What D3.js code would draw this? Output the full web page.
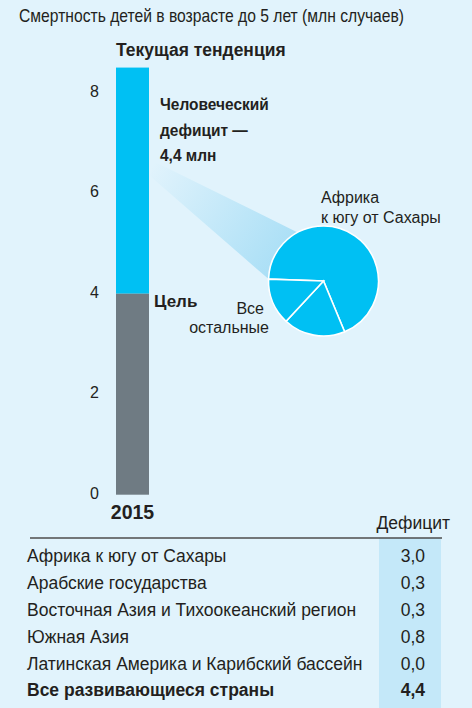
<!DOCTYPE html>
<html><head><meta charset="utf-8">
<script src="https://cdn.jsdelivr.net/npm/d3@7"></script>
<style>
html,body{margin:0;padding:0;background:#e1f3fc;}
svg{display:block;}
text{font-family:"Liberation Sans",Arial,sans-serif;fill:#231f20;}
</style></head>
<body><svg id="c" width="472" height="708"></svg>
<script>
// ---- data ----
const yTicks = [0, 2, 4, 6, 8];
const barYear = "2015";
const goalValue = 4.0;          // Цель
const trendValue = 8.5;         // Текущая тенденция (top of bar)
const deficitTotal = 4.4;
const regions = ["Африка к югу от Сахары","Арабские государства","Восточная Азия и Тихоокеанский регион","Южная Азия","Латинская Америка и Карибский бассейн"];
const regionDeficit = [3.0, 0.3, 0.3, 0.8, 0.0];
const totalLabel = "Все развивающиеся страны";
const pieLabels = ["Африка к югу от Сахары","Южная Азия","Все остальные"];
const pieValues = [3.0, 0.8, 0.6];

const svg = d3.select("#c");
svg.append("rect").attr("width",472).attr("height",708).attr("fill","#e1f3fc");

// condensed text helper
function ctext(parent, x, y, str, size, sx, opts={}) {
  const t = parent.append("text")
    .attr("transform", `translate(${x},${y}) scale(${sx},1)`)
    .attr("font-size", size).text(str);
  if (opts.bold) t.attr("font-weight","bold");
  if (opts.anchor) t.attr("text-anchor", opts.anchor);
  if (opts.fill) t.attr("fill", opts.fill);
  return t;
}

// title
ctext(svg, 19, 22, "Смертность детей в возрасте до 5 лет (млн случаев)", 17.5, 0.895, {fill:"#2b2b2b"});

const y = d3.scaleLinear().domain([0,8]).range([494.7, 92.7]);
const x = d3.scaleBand().domain([barYear]).range([116,149]).padding(0);

// axis (labels only)
const axis = d3.axisLeft(y).tickValues(yTicks).tickSize(0).tickPadding(0).tickFormat(d3.format("d"));
const ag = svg.append("g").attr("transform","translate(99,-2)").call(axis);
ag.select(".domain").remove();
ag.selectAll("text").attr("font-size",16).attr("fill","#4a4a4a").attr("font-family",null).attr("dy","0.35em");

// cone
const cx = 323.5, cy = 281, r = 55;
const onCircle = a => [cx + r*Math.sin(a), cy - r*Math.cos(a)];
const defs = svg.append("defs");
const grad = defs.append("linearGradient").attr("id","cone").attr("gradientUnits","userSpaceOnUse")
  .attr("x1",152).attr("y1",166).attr("x2",285).attr("y2",258);
grad.append("stop").attr("offset",0).attr("stop-color","#aadff6").attr("stop-opacity",0);
grad.append("stop").attr("offset",1).attr("stop-color","#aadff6").attr("stop-opacity",1);
const coneA = -28*Math.PI/180, coneB = -88*Math.PI/180;
svg.append("path").attr("fill","url(#cone)")
  .attr("d", d3.line()([[153,161], onCircle(coneA), [cx,cy], onCircle(coneB), [150,176]]) + "Z");

// bar
svg.append("rect").attr("x",x(barYear)).attr("width",x.bandwidth())
  .attr("y",y(trendValue)).attr("height",y(goalValue)-y(trendValue)).attr("fill","#00c0f3");
svg.append("rect").attr("x",x(barYear)).attr("width",x.bandwidth())
  .attr("y",y(goalValue)).attr("height",y(0)-y(goalValue)).attr("fill","#6f7b83");

ctext(svg, 116, 56, "Текущая тенденция", 19, 0.92, {bold:true});
const defLines = ["Человеческий","дефицит —", d3.format(".1f")(deficitTotal).replace(".",",")+" млн"];
defLines.forEach((d,i)=> ctext(svg, 160, 110+i*25.5, d, 17, 0.91, {bold:true}));
ctext(svg, 154, y(goalValue)+13, "Цель", 17, 1, {bold:true});
ctext(svg, x(barYear)+x.bandwidth()/2, 519, barYear, 19.5, 1, {bold:true, anchor:"middle"});

// pie
const pie = d3.pie().sort(null).startAngle(-88*Math.PI/180).endAngle(272*Math.PI/180);
const arc = d3.arc().innerRadius(0).outerRadius(r);
svg.append("g").attr("transform",`translate(${cx},${cy})`).selectAll("path").data(pie(pieValues)).join("path")
  .attr("d",arc).attr("fill","#00c0f3").attr("stroke","#ffffff").attr("stroke-width",1.6);
svg.append("text").attr("x",321).attr("y",203).attr("font-size",16).attr("fill","#333")
  .selectAll("tspan").data(["Африка","к югу от Сахары"]).join("tspan").attr("x",321).attr("dy",(d,i)=>i?19.5:0).text(d=>d);
svg.append("text").attr("y",314).attr("font-size",16).attr("text-anchor","end").attr("fill","#333")
  .selectAll("tspan").data(["Все","остальные"]).join("tspan").attr("x",(d,i)=>i?269:264).attr("dy",(d,i)=>i?19:0).text(d=>d);

// table
svg.append("text").attr("x",450).attr("y",529).attr("text-anchor","end").attr("font-size",17.5).attr("fill","#333").text("Дефицит");
const rowY = d3.scaleBand().domain(d3.range(regions.length+1)).range([543,704]);
svg.append("rect").attr("x",379).attr("y",538).attr("width",62).attr("height",170).attr("fill","#c4e8f9");
svg.append("line").attr("x1",30).attr("x2",442).attr("y1",538).attr("y2",538).attr("stroke","#4d4d4d").attr("stroke-width",1.5);
const fmt = v => d3.format(".1f")(v).replace(".",",");
const rows = regions.map((r,i)=>({label:r, value:regionDeficit[i], bold:false}))
  .concat([{label:totalLabel, value:deficitTotal, bold:true}]);
const rg = svg.append("g").selectAll("g").data(rows).join("g")
  .attr("transform",(d,i)=>`translate(0,${rowY(i)+rowY.bandwidth()/2})`);
rg.append("text").attr("x",27).attr("dy","0.33em").attr("font-size",17.5)
  .attr("font-weight",d=>d.bold?"bold":"normal").attr("fill",d=>d.bold?"#231f20":"#333").text(d=>d.label);
rg.append("text").attr("x",425).attr("text-anchor","end").attr("dy","0.33em").attr("font-size",17.5)
  .attr("font-weight",d=>d.bold?"bold":"normal").attr("fill",d=>d.bold?"#231f20":"#333").text(d=>fmt(d.value));
</script></body></html>
